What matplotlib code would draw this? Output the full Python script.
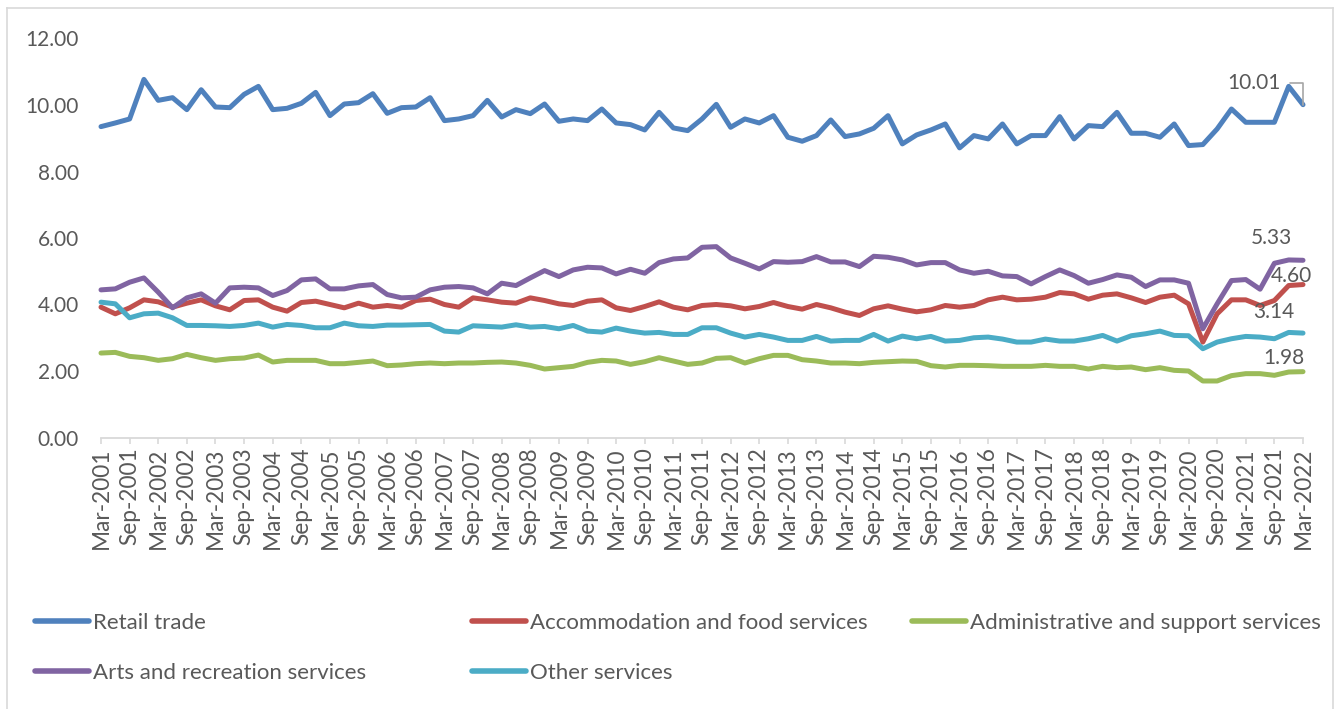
import matplotlib
matplotlib.use("Agg")
import matplotlib.pyplot as plt
from matplotlib.lines import Line2D

# Quarterly series, Mar-2001 .. Mar-2022
years = list(range(2001, 2023))
months = ["Mar", "Jun", "Sep", "Dec"]
quarters = [f"{m}-{y}" for y in years for m in months][:85]

retail_trade = [
    9.35, 9.46, 9.58, 10.77, 10.14, 10.22, 9.86, 10.46, 9.94, 9.92, 10.32, 10.56, 9.86, 9.90, 10.05,
    10.38, 9.68, 10.03, 10.07, 10.34, 9.75, 9.92, 9.94, 10.22, 9.53, 9.58, 9.68, 10.14, 9.64,
    9.86, 9.74, 10.03, 9.51, 9.58, 9.53, 9.88, 9.46, 9.41, 9.25, 9.78, 9.31, 9.23, 9.58, 10.02,
    9.33, 9.58, 9.46, 9.68, 9.03, 8.91, 9.08, 9.55, 9.05, 9.13, 9.30, 9.68, 8.83, 9.10,
    9.25, 9.43, 8.71, 9.08, 8.98, 9.43, 8.83, 9.08, 9.08, 9.65, 8.98, 9.38, 9.35, 9.78, 9.15,
    9.15, 9.03, 9.43, 8.78, 8.81, 9.28, 9.88, 9.48, 9.48, 9.48, 10.56, 10.01,
]
accommodation_food = [
    3.92, 3.72, 3.90, 4.14, 4.08, 3.92, 4.04, 4.14, 3.96, 3.84, 4.12, 4.14, 3.92, 3.80, 4.06,
    4.10, 4.00, 3.90, 4.04, 3.92, 3.97, 3.92, 4.12, 4.16, 4.00, 3.92, 4.20, 4.14, 4.07,
    4.04, 4.20, 4.12, 4.02, 3.97, 4.10, 4.14, 3.90, 3.82, 3.94, 4.08, 3.92, 3.84, 3.97, 4.00,
    3.96, 3.87, 3.94, 4.06, 3.94, 3.86, 4.00, 3.90, 3.77, 3.67, 3.87, 3.96, 3.86, 3.78,
    3.84, 3.97, 3.92, 3.97, 4.14, 4.22, 4.14, 4.16, 4.22, 4.36, 4.32, 4.16, 4.28, 4.32, 4.20,
    4.06, 4.22, 4.28, 4.02, 2.87, 3.72, 4.14, 4.14, 3.97, 4.12, 4.57, 4.60,
]
admin_support = [
    2.54, 2.56, 2.44, 2.40, 2.32, 2.37, 2.50, 2.40, 2.32, 2.37, 2.39, 2.48, 2.27, 2.32, 2.32,
    2.32, 2.22, 2.22, 2.26, 2.30, 2.16, 2.18, 2.22, 2.24, 2.22, 2.24, 2.24, 2.26, 2.27,
    2.24, 2.17, 2.06, 2.10, 2.14, 2.26, 2.32, 2.30, 2.20, 2.28, 2.40, 2.30, 2.20, 2.24, 2.38,
    2.40, 2.24, 2.37, 2.47, 2.47, 2.34, 2.30, 2.24, 2.24, 2.22, 2.26, 2.28, 2.30, 2.29,
    2.16, 2.12, 2.17, 2.17, 2.16, 2.14, 2.14, 2.14, 2.17, 2.14, 2.14, 2.06, 2.14, 2.10, 2.12,
    2.04, 2.10, 2.02, 2.00, 1.70, 1.70, 1.86, 1.92, 1.92, 1.87, 1.97, 1.98,
]
arts_recreation = [
    4.44, 4.47, 4.67, 4.80, 4.37, 3.90, 4.20, 4.32, 4.04, 4.50, 4.52, 4.50, 4.27, 4.42, 4.74,
    4.77, 4.47, 4.47, 4.56, 4.60, 4.30, 4.20, 4.22, 4.44, 4.52, 4.54, 4.50, 4.32, 4.64,
    4.57, 4.80, 5.02, 4.84, 5.04, 5.12, 5.10, 4.92, 5.06, 4.94, 5.26, 5.37, 5.40, 5.72, 5.74,
    5.40, 5.24, 5.07, 5.29, 5.27, 5.29, 5.44, 5.28, 5.28, 5.14, 5.45, 5.42, 5.34, 5.19,
    5.26, 5.26, 5.04, 4.94, 5.00, 4.86, 4.84, 4.62, 4.84, 5.04, 4.87, 4.64, 4.75, 4.89, 4.82,
    4.54, 4.74, 4.74, 4.64, 3.27, 4.02, 4.72, 4.75, 4.46, 5.24, 5.34, 5.33,
]
other_services = [
    4.07, 4.02, 3.60, 3.72, 3.74, 3.60, 3.37, 3.37, 3.36, 3.34, 3.37, 3.44, 3.32, 3.40, 3.37,
    3.30, 3.30, 3.44, 3.36, 3.34, 3.38, 3.38, 3.39, 3.40, 3.20, 3.17, 3.36, 3.34, 3.32,
    3.39, 3.32, 3.34, 3.27, 3.37, 3.20, 3.17, 3.29, 3.20, 3.14, 3.16, 3.10, 3.10, 3.30, 3.30,
    3.14, 3.02, 3.10, 3.02, 2.92, 2.92, 3.04, 2.90, 2.92, 2.92, 3.10, 2.90, 3.05, 2.97,
    3.04, 2.90, 2.92, 3.00, 3.02, 2.96, 2.87, 2.87, 2.96, 2.90, 2.90, 2.97, 3.07, 2.90, 3.06,
    3.12, 3.20, 3.07, 3.06, 2.67, 2.87, 2.97, 3.04, 3.02, 2.97, 3.16, 3.14,
]

series_names = [
    "Retail trade",
    "Accommodation and food services",
    "Administrative and support services",
    "Arts and recreation services",
    "Other services",
]
series_values = [retail_trade, accommodation_food, admin_support, arts_recreation, other_services]
series_colors = ["#4F81BD", "#C0504D", "#9BBB59", "#8064A2", "#4BACC6"]

# offsets (points) of the end-value labels relative to the last point
label_offsets = [(-35, 15.5), (-8, 6), (-14, 10), (-23, 16), (-21, 15)]

TEXT = "#595959"
GRID = "#D9D9D9"
FONT = ["Lato", "DejaVu Sans"]
plt.rcParams["font.family"] = FONT

W, H = 1341, 709
fig = plt.figure(figsize=(W / 100, H / 100), dpi=100)
ax = fig.add_axes([101 / W, 1 - 437.5 / H, (1303 - 101) / W, (437.5 - 38.5) / H])

x = list(range(len(quarters)))
lines = []
for name, vals, col in zip(series_names, series_values, series_colors):
    (ln,) = ax.plot(x, vals, color=col, lw=3.6, solid_joinstyle="round",
                    solid_capstyle="round", label=name, clip_on=False, zorder=3)
    lines.append(ln)

ax.set_xlim(0, len(quarters) - 1)
ax.set_ylim(0, 12)
ax.set_yticks([0, 2, 4, 6, 8, 10, 12])
ax.set_yticklabels([f"{v:.2f}" for v in [0, 2, 4, 6, 8, 10, 12]])
ax.set_xticks(x[::2])
ax.set_xticklabels(quarters[::2], rotation=90)

for s in ("top", "right", "left"):
    ax.spines[s].set_visible(False)
ax.spines["bottom"].set_color(GRID)
ax.spines["bottom"].set_linewidth(1.3)
ax.tick_params(axis="y", length=0, pad=16, labelsize=15, labelcolor=TEXT)
ax.tick_params(axis="x", length=4, width=1.2, color=GRID, pad=3, labelsize=16.3, labelcolor=TEXT)

# end-of-series value labels
for i, (vals, off) in enumerate(zip(series_values, label_offsets)):
    last = vals[-1]
    kw = {}
    if i == 0:
        # bent leader line from the label to its point
        kw["arrowprops"] = dict(arrowstyle="-", color="#A6A6A6", lw=1.2,
                                connectionstyle="angle,angleA=0,angleB=90,rad=0",
                                relpos=(1, 0.5), patchA=None, shrinkA=6.5, shrinkB=0)
    ax.annotate(f"{last:.2f}", xy=(x[-1], last), xytext=off, textcoords="offset points",
                ha="center", va="center", fontsize=15, color=TEXT, zorder=5,
                annotation_clip=False, **kw)

# legend laid out in three columns
columns = [[0, 3], [1, 4], [2]]
col_x = [35, 472, 912]
for idxs, cx in zip(columns, col_x):
    leg = fig.legend([lines[i] for i in idxs], [series_names[i] for i in idxs],
                     loc="upper left", bbox_to_anchor=(cx / W, 1 - 613 / H),
                     frameon=False, fontsize=16, handlelength=2.45, handletextpad=0.18,
                     labelspacing=1.35, borderpad=0, borderaxespad=0)
    for t in leg.get_texts():
        t.set_color(TEXT)
    for h in leg.get_lines():
        h.set_linewidth(4)
        h.set_solid_capstyle("round")

# chart-area border
for xs, ys in [((7, 7), (8, H + 5)), ((7, 1333), (8, 8)), ((1333, 1333), (8, H + 5))]:
    fig.add_artist(Line2D([v / W for v in xs], [1 - v / H for v in ys],
                          transform=fig.transFigure, color=GRID, lw=1.2))

fig.savefig("out.png", dpi=100)
